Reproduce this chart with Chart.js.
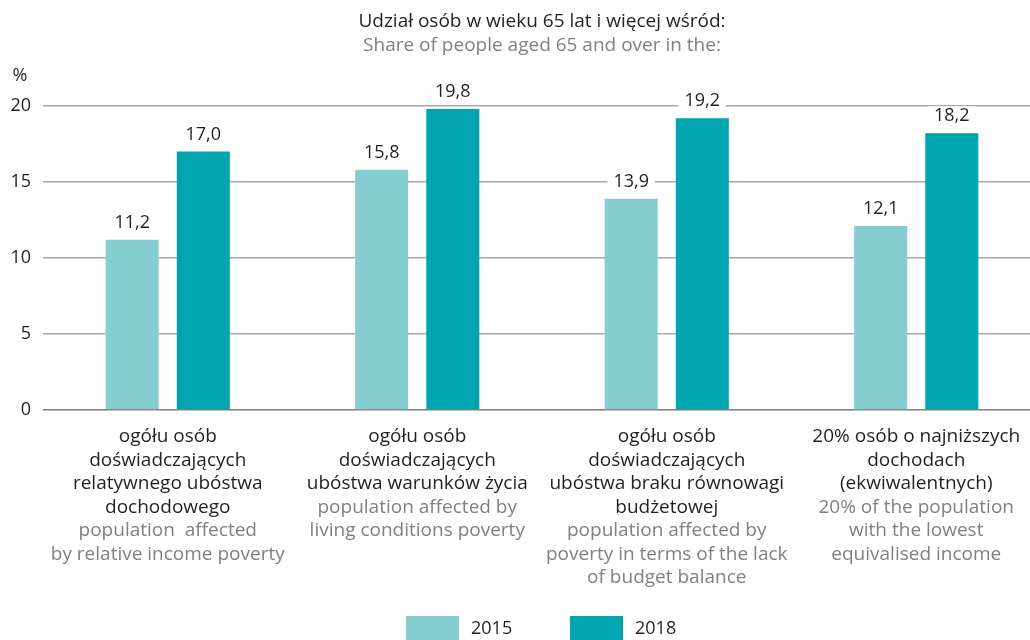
<!DOCTYPE html>
<html><head><meta charset="utf-8">
<script src="https://cdn.jsdelivr.net/npm/chart.js@4"></script>
<style>html,body{margin:0;padding:0;background:#fff;overflow:hidden}#wrap{width:1030px;height:640px;overflow:hidden}</style>
</head><body><div id="wrap"><canvas id="c" width="1041" height="640"></canvas></div>
<script>
const categories = ['relative income poverty', 'living conditions poverty', 'lack of budget balance', 'lowest 20% income'];
const labelsPl = [
  ['ogółu osób', 'doświadczających', 'relatywnego ubóstwa', 'dochodowego'],
  ['ogółu osób', 'doświadczających', 'ubóstwa warunków życia'],
  ['ogółu osób', 'doświadczających', 'ubóstwa braku równowagi', 'budżetowej'],
  ['20% osób o najniższych', 'dochodach', '(ekwiwalentnych)']
];
const labelsEn = [
  ['population  affected', 'by relative income poverty'],
  ['population affected by', 'living conditions poverty'],
  ['population affected by', 'poverty in terms of the lack', 'of budget balance'],
  ['20% of the population', 'with the lowest', 'equivalised income']
];
const seriesNames = ['2015', '2018'];
const values2015 = [11.2, 15.8, 13.9, 12.1];
const values2018 = [17.0, 19.8, 19.2, 18.2];
const yTicks = [0, 5, 10, 15, 20];
const titlePl = 'Udział osób w wieku 65 lat i więcej wśród:';
const titleEn = 'Share of people aged 65 and over in the:';
const unitLabel = '%';

const FONT = "'Open Sans', 'DejaVu Sans', sans-serif";
const DARK = '#231f20';
const GREY = '#808080';
const COLORS = ['#86cdd2', '#00a5af'];

const valueLabels = {
  id: 'valueLabels',
  afterDatasetsDraw(chart) {
    const ctx = chart.ctx;
    ctx.save();
    ctx.font = '18px ' + FONT;
    ctx.textAlign = 'center';
    ctx.textBaseline = 'middle';
    chart.data.datasets.forEach((ds, di) => {
      const meta = chart.getDatasetMeta(di);
      meta.data.forEach((bar, i) => {
        const txt = ds.data[i].toFixed(1).replace('.', ',');
        const y = bar.y - 17;
        const w = ctx.measureText(txt).width + 12;
        ctx.fillStyle = '#ffffff';
        ctx.fillRect(bar.x - w / 2, y - 10, w, 20);
        ctx.fillStyle = DARK;
        ctx.fillText(txt, bar.x, y);
      });
    });
    ctx.restore();
  }
};

const decorations = {
  id: 'decorations',
  afterDraw(chart) {
    const ctx = chart.ctx;
    const xs = chart.scales.x;
    ctx.save();
    ctx.textAlign = 'center';
    ctx.textBaseline = 'middle';
    // title
    ctx.font = '19px ' + FONT;
    ctx.fillStyle = DARK;
    ctx.fillText(titlePl, 542, 22);
    ctx.fillStyle = GREY;
    ctx.fillText(titleEn, 542, 46);
    // unit
    ctx.font = '18px ' + FONT;
    ctx.fillStyle = DARK;
    ctx.fillText(unitLabel, 20, 76);
    // category labels
    ctx.font = '19px ' + FONT;
    const lh = 23.5;
    categories.forEach((c, i) => {
      const cx = xs.getPixelForValue(i);
      let y = 437;
      labelsPl[i].forEach(line => { ctx.fillStyle = DARK; ctx.fillText(line, cx, y); y += lh; });
      labelsEn[i].forEach(line => { ctx.fillStyle = GREY; ctx.fillText(line, cx, y); y += lh; });
    });
    // legend
    const legendX = [406, 570];
    ctx.textAlign = 'left';
    ctx.font = '18px ' + FONT;
    chart.data.datasets.forEach((ds, di) => {
      ctx.fillStyle = ds.backgroundColor;
      ctx.fillRect(legendX[di], 616, 53, 26);
      ctx.fillStyle = DARK;
      ctx.fillText(ds.label, legendX[di] + 65, 629);
    });
    ctx.restore();
  }
};

new Chart(document.getElementById('c'), {
  type: 'bar',
  data: {
    labels: categories,
    datasets: [
      { label: seriesNames[0], data: values2015, backgroundColor: COLORS[0] },
      { label: seriesNames[1], data: values2018, backgroundColor: COLORS[1] }
    ]
  },
  options: {
    responsive: false,
    animation: false,
    devicePixelRatio: 1,
    categoryPercentage: 0.57,
    barPercentage: 0.746,
    layout: { padding: { top: 106, bottom: 230, left: 0, right: 0 } },
    plugins: { legend: { display: false }, tooltip: { enabled: false }, title: { display: false } },
    scales: {
      x: { display: false },
      y: {
        min: 0, max: 20,
        afterBuildTicks: s => { s.ticks = yTicks.map(v => ({ value: v })); },
        afterFit: s => { s.width = 43; },
        ticks: { padding: 12, color: DARK, font: { family: FONT, size: 18 } },
        grid: {
          drawTicks: false,
          lineWidth: 1.5,
          color: c => (c.tick && c.tick.value === 0) ? '#7d7d7d' : '#a8a8a8'
        },
        border: { display: false }
      }
    }
  },
  plugins: [valueLabels, decorations]
});
</script></body></html>
